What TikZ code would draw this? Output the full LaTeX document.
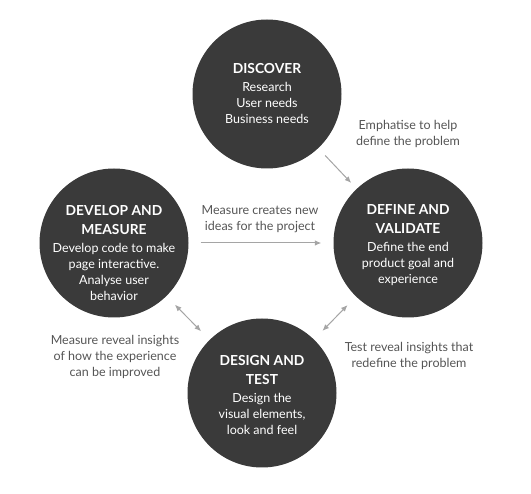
\documentclass[tikz,border=0pt]{standalone}
\usepackage{fontspec}
\setmainfont{Lato}
\usetikzlibrary{arrows.meta}
\newlength{\stagediameter}
\newlength{\arrowgap}
\setlength{\stagediameter}{149pt}
\setlength{\arrowgap}{12pt}
\definecolor{stagecolor}{RGB}{58,58,58}
\definecolor{notecolor}{RGB}{85,85,85}
\definecolor{arrowcolor}{RGB}{165,165,165}
\newcommand{\stagetitle}[1]{{\fontsize{13.8}{16}\selectfont\bfseries #1}}
\tikzstyle{stage} = [circle, fill=stagecolor, minimum size=\stagediameter, inner sep=0]
\tikzstyle{stagetext} = [text=white, align=center, font=\fontsize{12.5}{16}\selectfont, inner sep=0]
\tikzstyle{note} = [text=notecolor, align=center, font=\fontsize{12.5}{16}\selectfont, inner sep=0]
\tikzstyle{flow} = [draw, arrowcolor, line width=1pt, shorten >=\arrowgap, shorten <=\arrowgap]
\tikzstyle{oneway} = [flow, -{Latex[length=6.5pt,width=5.5pt]}]
\tikzstyle{twoway} = [flow, {Latex[length=6.5pt,width=5.5pt]}-{Latex[length=6.5pt,width=5.5pt]}]
\begin{document}
\begin{tikzpicture}[
		x=1pt, y=-1pt
		]
		\useasboundingbox (0,0) rectangle (531,494);
		
		% the four stages
		\node[stage] (discover) at (267,94) {};
		\node[stage] (define) at (408,243) {};
		\node[stage] (develop) at (114,243) {};
		\node[stage] (design) at (262,393) {};
		
		\node[stagetext] (discovertext) at (267,94) {\stagetitle{DISCOVER}\\[2pt] Research\\ User needs\\ Business needs};
		\node[stagetext] (definetext) at (408,245) {\stagetitle{DEFINE AND}\\[3pt] \stagetitle{VALIDATE}\\[2pt] Define the end\\ product goal and\\ experience};
		\node[stagetext] (developtext) at (114,253) {\stagetitle{DEVELOP AND}\\[3pt] \stagetitle{MEASURE}\\[2pt] Develop code to make\\ page interactive.\\ Analyse user\\ behavior};
		\node[stagetext] (designtext) at (262,395) {\stagetitle{DESIGN AND}\\[3pt] \stagetitle{TEST}\\[2pt] Design the\\ visual elements,\\ look and feel};
		
		% notes between the stages
		\node[note] (emphatise) at (408,134) {Emphatise to help\\ define the problem};
		\node[note] (newideas) at (260,219) {Measure creates new\\ ideas for the project};
		\node[note] (improved) at (115,357) {Measure reveal insights\\ of how the experience\\ can be improved};
		\node[note] (redefine) at (409,356) {Test reveal insights that\\ redefine the problem};
		
		% arrows
		\draw[oneway, shorten <=10pt, shorten >=8pt] (discover) -- (define);
		\draw[oneway] (develop) -- (define);
		\draw[twoway] (develop) -- (design);
		\draw[twoway] (design) -- (define);
		
	\end{tikzpicture}
\end{document}
